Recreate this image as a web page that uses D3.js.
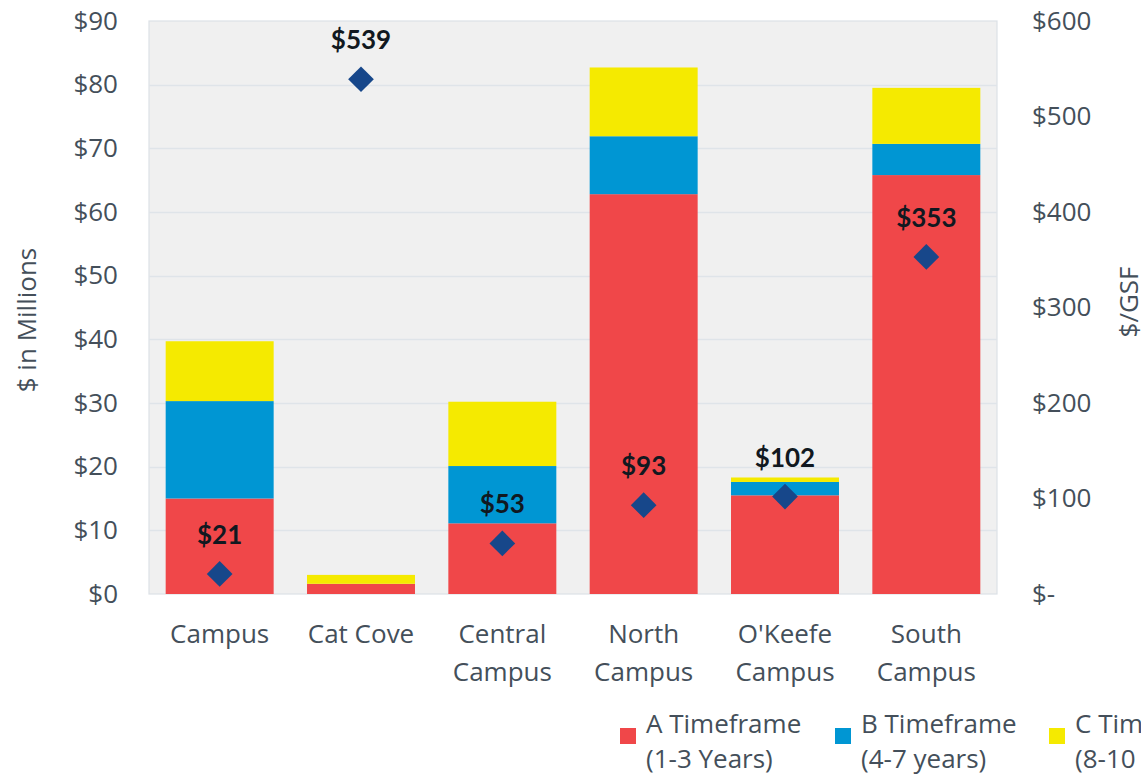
<!DOCTYPE html>
<html><head><meta charset="utf-8">
<script src="https://cdn.jsdelivr.net/npm/d3@7"></script>
<style>
html,body{margin:0;padding:0;background:#fff;overflow:hidden;}
svg{display:block;}
</style></head>
<body>
<svg id="c" width="1141" height="777"></svg>
<script>
const categories = ["Campus","Cat Cove","Central\nCampus","North\nCampus","O'Keefe\nCampus","South\nCampus"];
const seriesA = [15.0, 1.6, 11.1, 62.8, 15.5, 65.8];
const seriesB = [15.3, 0.0, 9.0, 9.1, 2.1, 4.9];
const seriesC = [9.4, 1.4, 10.1, 10.8, 0.7, 8.8];
const perGSF = [21, 539, 53, 93, 102, 353];
const perGSFLabels = ["$21","$539","$53","$93","$102","$353"];
const leftTicks = [0,10,20,30,40,50,60,70,80,90];
const rightTicks = [0,100,200,300,400,500,600];
const seriesNames = [["A Timeframe","(1-3 Years)"],["B Timeframe","(4-7 years)"],["C Timeframe","(8-10 Years)"]];
const colors = ["#F04749","#0096D3","#F5EA00"];

const svg = d3.select("#c");
const L=149, R=997, T=21, B=594;
const x = d3.scaleBand().domain(categories).range([L,R]).paddingInner(0.236).paddingOuter(0.118);
const y = d3.scaleLinear().domain([0,90]).range([B,T]);
const y2 = d3.scaleLinear().domain([0,600]).range([B,T]);
const tickColor = "#444F5A";
const font = "'Open Sans', sans-serif";
const fs = 26;

// plot background
svg.append("rect").attr("x",L).attr("y",T).attr("width",R-L).attr("height",B-T)
  .attr("fill","#F0F0F0").attr("stroke","#DCE1E6").attr("stroke-width",1.2);

// gridlines
svg.append("g").selectAll("line").data(leftTicks.filter(d=>d>0&&d<90)).join("line")
  .attr("x1",L).attr("x2",R).attr("y1",d=>Math.round(y(d))+0.5).attr("y2",d=>Math.round(y(d))+0.5)
  .attr("stroke","#DFE4E9").attr("stroke-width",1.3);

// stacked bars
const data = categories.map((c,i)=>({cat:c,A:seriesA[i],B:seriesB[i],C:seriesC[i]}));
const stack = d3.stack().keys(["A","B","C"])(data);
svg.append("g").selectAll("g").data(stack).join("g").attr("fill",(d,i)=>colors[i])
  .selectAll("rect").data(d=>d).join("rect")
  .attr("x",d=>x(d.data.cat)).attr("width",x.bandwidth())
  .attr("y",d=>y(d[1])).attr("height",d=>Math.max(0,y(d[0])-y(d[1])));

// left axis
const gl = svg.append("g").attr("transform",`translate(${L},0)`)
  .call(d3.axisLeft(y).tickValues(leftTicks).tickFormat(d=>"$"+d).tickSize(0).tickPadding(31));
gl.select(".domain").remove();
gl.selectAll("text").attr("font-family",font).attr("font-size",fs).attr("fill",tickColor);

// right axis
const gr = svg.append("g").attr("transform",`translate(${R},0)`)
  .call(d3.axisRight(y2).tickValues(rightTicks).tickFormat(d=>d===0?"$-":"$"+d).tickSize(0).tickPadding(35));
gr.select(".domain").remove();
gr.selectAll("text").attr("font-family",font).attr("font-size",fs).attr("fill",tickColor);

// x labels
const gx = svg.append("g");
categories.forEach(c=>{
  const t = gx.append("text").attr("x",x(c)+x.bandwidth()/2).attr("y",643)
    .attr("text-anchor","middle").attr("font-family",font).attr("font-size",fs).attr("fill",tickColor);
  c.split("\n").forEach((ln,j)=>t.append("tspan").attr("x",x(c)+x.bandwidth()/2).attr("dy",j?38:0).text(ln));
});

// axis titles
svg.append("text").attr("transform","translate(36,320) rotate(-90)").attr("text-anchor","middle")
  .attr("font-family",font).attr("font-size",fs).attr("fill",tickColor).text("$ in Millions");
svg.append("text").attr("transform","translate(1138,302) rotate(-90)").attr("text-anchor","middle")
  .attr("font-family",font).attr("font-size",fs).attr("fill",tickColor).text("$/GSF");

// diamonds
const sym = d3.symbol().type(d3.symbolSquare).size(330);
svg.append("g").selectAll("path").data(perGSF).join("path")
  .attr("d",sym)
  .attr("transform",(d,i)=>`translate(${x(categories[i])+x.bandwidth()/2},${y2(d)}) rotate(45)`)
  .attr("fill","#17478A");

// value labels
svg.append("g").selectAll("text").data(perGSF).join("text")
  .attr("x",(d,i)=>x(categories[i])+x.bandwidth()/2).attr("y",d=>y2(d)-30)
  .attr("text-anchor","middle").attr("font-family","Lato, sans-serif").attr("font-weight","bold")
  .attr("font-size",26).attr("fill","#111820").text((d,i)=>perGSFLabels[i]);

// legend
const legX = [620,835,1049];
seriesNames.forEach((n,i)=>{
  svg.append("rect").attr("x",legX[i]).attr("y",728).attr("width",16).attr("height",16).attr("fill",colors[i]);
  const t = svg.append("text").attr("x",legX[i]+26).attr("y",733)
    .attr("font-family",font).attr("font-size",fs).attr("fill",tickColor);
  n.forEach((ln,j)=>t.append("tspan").attr("x",legX[i]+26).attr("dy",j?35:0).text(ln));
});
</script>
</body></html>
